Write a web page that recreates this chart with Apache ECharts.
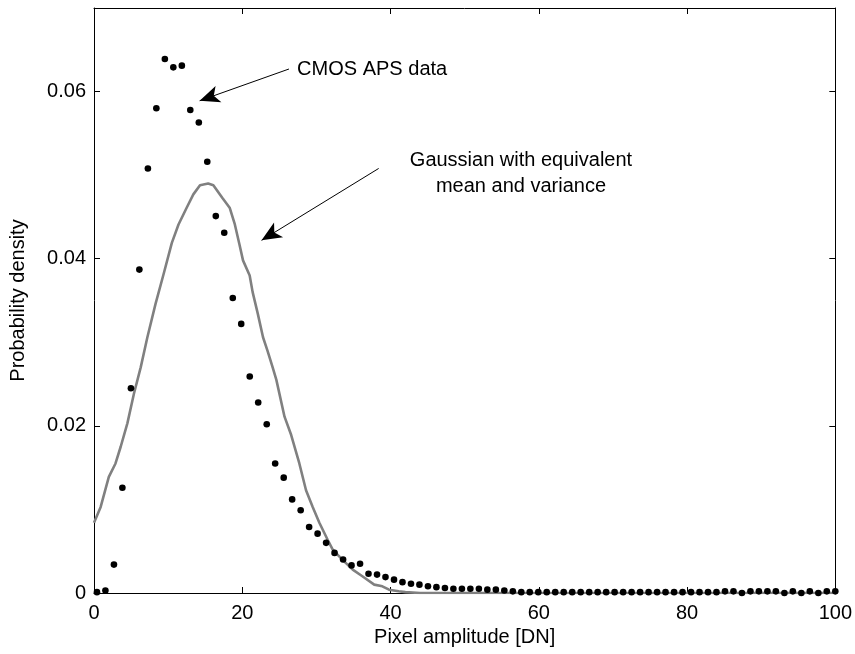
<!DOCTYPE html>
<html><head><meta charset="utf-8">
<script src="https://cdn.jsdelivr.net/npm/echarts@6/dist/echarts.min.js"></script>
<style>html,body{margin:0;padding:0;background:#fff}#c{width:855px;height:654px}</style>
</head><body><div id="c"></div>
<script>
// Data
const binX = [0.40,1.54,2.69,3.83,4.98,6.12,7.27,8.41,9.56,10.70,11.85,12.99,14.14,15.28,16.43,17.57,18.72,19.86,21.01,22.15,23.30,24.44,25.59,26.73,27.88,29.02,30.16,31.31,32.45,33.60,34.74,35.89,37.03,38.18,39.32,40.47,41.61,42.76,43.90,45.05,46.19,47.34,48.48,49.63,50.77,51.92,53.06,54.21,55.35,56.50,57.64,58.78,59.93,61.07,62.22,63.36,64.51,65.65,66.80,67.94,69.09,70.23,71.38,72.52,73.67,74.81,75.96,77.10,78.25,79.39,80.54,81.68,82.83,83.97,85.12,86.26,87.40,88.55,89.69,90.84,91.98,93.13,94.27,95.42,96.56,97.71,98.85,100.00];
const apsDensity = [0.0001,0.0003,0.0034,0.0126,0.0245,0.0387,0.0508,0.0580,0.0639,0.0629,0.0631,0.0578,0.0563,0.0516,0.0451,0.0431,0.0353,0.0322,0.0259,0.0228,0.0202,0.0155,0.0138,0.0112,0.0099,0.0079,0.0071,0.0060,0.0048,0.0040,0.0033,0.0035,0.0023,0.0022,0.0019,0.0016,0.0013,0.0011,0.0010,0.0008,0.0007,0.0006,0.0005,0.0005,0.0005,0.0005,0.0004,0.0004,0.0003,0.0002,0.0001,0.0001,0.0001,0.0001,0.0001,0.0001,0.0001,0.0001,0.0001,0.0001,0.0001,0.0001,0.0001,0.0001,0.0001,0.0001,0.0001,0.0001,0.0001,0.0001,0.0001,0.0001,0.0001,0.0001,0.0002,0.0002,0,0.0002,0.0002,0.0002,0.0002,0,0.0002,0,0.0002,0,0.0002,0.0002];
const gaussX = [0,0.9,2.0,2.9,3.6,4.5,5.4,6.3,7.2,8.3,9.4,10.5,11.4,12.5,13.4,14.3,15.4,16.1,17.3,18.3,19.0,19.6,20.1,21.0,21.4,22.1,22.8,23.4,24.1,24.6,25.7,26.6,27.7,28.6,29.5,30.4,31.5,32.2,33.5,34.9,36.2,37.8,38.9,39.8,41.1,42.0,44.0,50.0,60.0,70.0,80.0,90.0,100.0];
const gaussY = [0.0084,0.0103,0.0139,0.0155,0.0175,0.0203,0.0239,0.0270,0.0306,0.0346,0.0382,0.0419,0.0441,0.0461,0.0477,0.0488,0.0490,0.0488,0.0473,0.0461,0.0441,0.0418,0.0398,0.0380,0.0360,0.0334,0.0306,0.0290,0.0270,0.0255,0.0211,0.0189,0.0155,0.0123,0.0103,0.0084,0.0064,0.0052,0.0040,0.0028,0.0020,0.0010,0.0008,0.0004,0.0002,0.0001,0,0,0,0,0,0,0];
const xTicks = [0,20,40,60,80,100];
const yTicks = [0,0.02,0.04,0.06];
const xTitle = 'Pixel amplitude [DN]';
const yTitle = 'Probability density';
const note1 = 'CMOS APS data';
const note2 = 'Gaussian with equivalent\nmean and variance';
// annotation anchors in data units
const note1Pos = [27.4, 0.0627];
const note2Pos = [57.6, 0.0502];
const arrow1 = [[26.3, 0.0627],[14.25, 0.0589]];
const arrow2 = [[38.4, 0.0508],[22.6, 0.0422]];

const FONT = 'Liberation Sans, Arial, sans-serif';
const chart = echarts.init(document.getElementById('c'), null, {renderer:'canvas'});
const baseAxis = {
  axisLine:{show:true,onZero:false,lineStyle:{color:'#000',width:1}},
  axisTick:{show:true,inside:true,length:6,lineStyle:{color:'#000',width:1}},
  splitLine:{show:false}
};
chart.setOption({
  animation:false,
  backgroundColor:'#fff',
  grid:{left:94,right:17,top:8,bottom:61,containLabel:false},
  xAxis:[
    Object.assign({type:'value',min:0,max:100,interval:20,position:'bottom',
      name:xTitle,nameLocation:'middle',nameGap:29,
      nameTextStyle:{fontFamily:FONT,fontSize:20,color:'#000'},
      axisLabel:{fontFamily:FONT,fontSize:20,color:'#000',margin:10,
        formatter:v=>xTicks.includes(v)?String(v):''}}, baseAxis),
    Object.assign({type:'value',min:0,max:100,interval:20,position:'top',axisLabel:{show:false}}, baseAxis)
  ],
  yAxis:[
    Object.assign({type:'value',min:0,max:0.07,interval:0.02,position:'left',
      name:yTitle,nameLocation:'middle',nameGap:66,
      nameTextStyle:{fontFamily:FONT,fontSize:20,color:'#000'},
      axisLabel:{fontFamily:FONT,fontSize:20,color:'#000',margin:8,
        formatter:v=>{const t=yTicks.find(k=>Math.abs(k-v)<1e-9);return t===undefined?'':String(t);}}}, baseAxis),
    Object.assign({type:'value',min:0,max:0.07,interval:0.02,position:'right',axisLabel:{show:false}}, baseAxis)
  ],
  series:[
    {type:'line',name:'Gaussian',data:gaussX.map((x,i)=>[x,gaussY[i]]),
     showSymbol:false,symbol:'none',smooth:false,z:2,
     lineStyle:{color:'#808080',width:2.6,opacity:1},
     markLine:{silent:true,symbol:['none','arrow'],symbolSize:[13,20],
       lineStyle:{color:'#000',width:1,type:'solid',opacity:1},label:{show:false},
       data:[
         [{coord:arrow1[0]},{coord:arrow1[1]}],
         [{coord:arrow2[0]},{coord:arrow2[1]}]
       ]},
     markPoint:{silent:true,symbol:'circle',symbolSize:0,
       data:[
         {coord:note1Pos,label:{show:true,position:'inside',formatter:note1,align:'left',verticalAlign:'middle',
           fontFamily:FONT,fontSize:20,color:'#000'}},
         {coord:note2Pos,label:{show:true,position:'inside',formatter:note2,align:'center',verticalAlign:'middle',
           fontFamily:FONT,fontSize:20,lineHeight:26,color:'#000'}}
       ]}
    },
    {type:'scatter',name:'CMOS APS data',data:binX.map((x,i)=>[x,apsDensity[i]]),
     symbol:'circle',symbolSize:6.6,itemStyle:{color:'#000',opacity:1},z:3}
  ]
});
</script>
</body></html>
